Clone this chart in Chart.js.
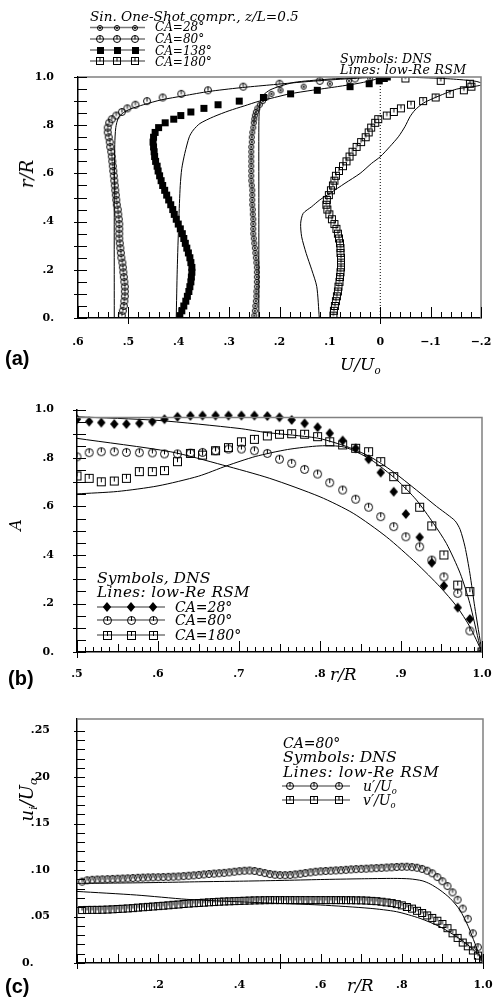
<!DOCTYPE html>
<html><head><meta charset="utf-8">
<script src="https://cdn.jsdelivr.net/npm/chart.js@4.4.1/dist/chart.umd.min.js"></script>
<style>
html,body{margin:0;padding:0;background:#fff;}
body{width:493px;height:998px;position:relative;overflow:hidden;}
canvas{position:absolute;left:0;}
.t{position:absolute;white-space:nowrap;line-height:1;font-family:'DejaVu Serif',serif;font-style:italic;color:#000;z-index:2;}
.p{position:absolute;white-space:nowrap;font-family:'Liberation Sans',Arial,sans-serif;font-weight:bold;font-size:20px;line-height:1;z-index:2;}
.rot{transform:translate(-50%,-50%) rotate(-90deg);}
.s{font-size:60%;position:relative;top:0.35em;}
</style></head><body>
<canvas id="ca" width="493" height="360" style="top:0px;width:493px;height:360px"></canvas>
<canvas id="cb" width="493" height="320" style="top:370px;width:493px;height:320px"></canvas>
<canvas id="cc" width="493" height="303" style="top:695px;width:493px;height:303px"></canvas>

<div class="t" style="left:90px;top:10px;font-size:13.6px">Sin. One-Shot compr., z/L=0.5</div>
<div class="t" style="left:155px;top:21px;font-size:12px">CA=28°</div>
<div class="t" style="left:155px;top:33px;font-size:12px">CA=80°</div>
<div class="t" style="left:155px;top:44.5px;font-size:12px">CA=138°</div>
<div class="t" style="left:155px;top:55.5px;font-size:12px">CA=180°</div>
<div class="t" style="left:340px;top:53px;font-size:12.6px">Symbols: DNS</div>
<div class="t" style="left:340px;top:64px;font-size:12.6px;letter-spacing:0.3px">Lines: low-Re RSM</div>
<div class="t rot" style="left:27px;top:174px;font-size:18px">r/R</div>
<div class="t" style="left:340px;top:356px;font-size:17px">U/U<span class="s">o</span></div>
<div class="p" style="left:5px;top:348px">(a)</div>

<div class="t rot" style="left:16px;top:525px;font-size:16px">A</div>
<div class="t" style="left:330px;top:666px;font-size:17px">r/R</div>
<div class="p" style="left:8px;top:668px">(b)</div>
<div class="t" style="left:97px;top:571px;font-size:15.6px">Symbols, DNS</div>
<div class="t" style="left:97px;top:585px;font-size:15.2px;letter-spacing:0.4px">Lines: low-Re RSM</div>
<div class="t" style="left:175px;top:600px;font-size:14px">CA=28°</div>
<div class="t" style="left:175px;top:613px;font-size:14px">CA=80°</div>
<div class="t" style="left:175px;top:628px;font-size:14px">CA=180°</div>

<div class="t rot" style="left:27px;top:800px;font-size:18px">u<span class="s">i</span>/U<span class="s">o</span></div>
<div class="t" style="left:347px;top:977px;font-size:17px">r/R</div>
<div class="p" style="left:5px;top:976px">(c)</div>
<div class="t" style="left:283px;top:736px;font-size:14px">CA=80°</div>
<div class="t" style="left:283px;top:750px;font-size:15.6px">Symbols: DNS</div>
<div class="t" style="left:283px;top:765px;font-size:15.2px;letter-spacing:0.6px">Lines: low-Re RSM</div>
<div class="t" style="left:363px;top:779px;font-size:14px">u′/U<span class="s">o</span></div>
<div class="t" style="left:363px;top:793px;font-size:14px">v′/U<span class="s">o</span></div>

<script>
// ================= Panel (a): U/Uo vs r/R =================
const rA = [0.01,0.03,0.05,0.07,0.09,0.11,0.13,0.15,0.17,0.19,0.21,0.23,0.25,0.27,0.29,0.31,0.33,0.35,0.37,0.39,0.41,0.43,0.45,0.47,0.49,0.51,0.53,0.55,0.57,0.59,0.61,0.63,0.65,0.67,0.69,0.71,0.73,0.75,0.77,0.79,0.81,
  0.825,0.84,0.855,0.87,0.885,0.9,0.915,0.93,0.945,0.96,0.972,0.984,0.994,1.0];
const uA28 = [.250,.249,.248,.247,.246,.246,.245,.245,.245,.245,.245,.246,.247,.248,.249,.250,.251,.252,.252,.252,.252,.253,.253,.254,.254,.254,.254,.255,.256,.256,.256,.256,.256,.256,.256,.256,.255,.255,.254,.252,.251,
  .250,.249,.247,.244,.239,.233,.226,.216,.198,.152,.100,.062,.020,0];
const uA80 = [.513,.511,.509,.508,.507,.507,.507,.508,.509,.510,.511,.512,.514,.515,.516,.517,.518,.518,.518,.518,.519,.520,.521,.523,.524,.525,.526,.527,.528,.529,.530,.531,.532,.533,.534,.536,.537,.539,.541,.541,.538,
  .533,.524,.513,.502,.486,.463,.432,.395,.342,.272,.200,.120,.050,0];
const uA138 = [.398,.394,.390,.386,.383,.380,.378,.376,.375,.374,.374,.376,.378,.381,.384,.387,.390,.393,.397,.401,.405,.409,.412,.416,.420,.424,.428,.432,.435,.438,.441,.443,.446,.448,.449,.450,.451,.450,.447,.440,.427,
  .410,.396,.376,.350,.322,.280,.232,.178,.125,.060,.022,.002,-.008,-.014];
const uA180 = [.093,.092,.090,.088,.086,.084,.083,.081,.080,.079,.078,.078,.078,.079,.079,.080,.082,.084,.087,.091,.096,.101,.105,.107,.106,.102,.098,.094,.091,.088,.082,.074,.067,.061,.055,.047,.038,.029,.023,.018,.010,
  .004,-.013,-.027,-.041,-.061,-.085,-.110,-.138,-.166,-.181,-.178,-.120,-.050,0];
// RSM lines
const rsmA28U = [0.241,0.241,0.241,0.240,0.238,0.232,0.219,0.199,0.170,0.110,0.050,0];
const rsmA28R = [0,0.5,0.8,0.87,0.9,0.925,0.946,0.962,0.978,0.99,0.997,1.0];
const rsmA80U = [0.528,0.528,0.527,0.525,0.520,0.510,0.495,0.470,0.435,0.390,0.340,0.280,0.219,0.150,0.070,0];
const rsmA80R = [0,0.5,0.72,0.79,0.83,0.852,0.868,0.885,0.905,0.922,0.94,0.955,0.967,0.98,0.992,1.0];
const rsmA138U = [0.405,0.403,0.400,0.397,0.394,0.388,0.379,0.371,0.358,0.331,0.300,0.270,0.240,0.210,0.180,0.135,0.085,0.040,0.010,0];
const rsmA138R = [0,0.2,0.4,0.55,0.62,0.683,0.752,0.78,0.807,0.835,0.86,0.88,0.9,0.915,0.93,0.945,0.96,0.975,0.99,1.0];
const rsmA180U = [0.121,0.126,0.136,0.147,0.156,0.158,0.153,0.136,0.120,0.100,0.070,0.040,0.017,0.000,-0.019,-0.036,-0.049,-0.059,-0.069,-0.085,-0.105,-0.129,-0.152,-0.190,-0.205,-0.190,-0.140,-0.070,0];
const rsmA180R = [0,0.13,0.2,0.268,0.337,0.393,0.434,0.462,0.49,0.517,0.559,0.6,0.642,0.669,0.711,0.752,0.794,0.835,0.863,0.891,0.911,0.932,0.95,0.962,0.97,0.982,0.992,0.998,1.0];
const zeroLineU = [0,0];
const zeroLineR = [0,1];
const xTicksA = [0.6,0.5,0.4,0.3,0.2,0.1,0,-0.1,-0.2];
const xLabelsA = ['.6','.5','.4','.3','.2','.1','0','\u2212.1','\u2212.2'];
const yTicksA = [0,0.2,0.4,0.6,0.8,1.0];
const yLabelsA = ['0.','.2','.4','.6','.8','1.0'];

// ================= Panel (b): A vs r/R =================
const rB = [0.5,0.515,0.53,0.546,0.561,0.577,0.593,0.608,0.624,0.64,0.655,0.671,0.687,0.703,0.719,0.735,0.75,0.765,0.781,0.797,0.812,0.828,0.844,0.86,0.875,0.891,0.906,0.923,0.938,0.953,0.97,0.985,1.0];
const aB28 = [.960,.950,.946,.940,.940,.943,.950,.960,.970,.974,.975,.975,.975,.975,.975,.973,.968,.957,.943,.927,.902,.872,.840,.795,.740,.661,.569,.473,.368,.273,.183,.136,0];
const aB80 = [.805,.822,.826,.826,.823,.822,.821,.817,.817,.820,.823,.830,.837,.837,.830,.819,.795,.778,.753,.734,.698,.668,.630,.597,.558,.517,.475,.434,.379,.310,.242,.087,0];
const aB180 = [.726,.716,.702,.705,.716,.744,.744,.748,.785,.819,.812,.830,.843,.867,.877,.891,.898,.900,.898,.888,.867,.854,.840,.826,.785,.723,.671,.597,.520,.400,.276,.249,0];
const rsmB28R = [0.5,0.6,0.7,0.734,0.77,0.8,0.833,0.862,0.89,0.919,0.944,0.958,0.967,0.973,0.979,0.985,0.991,1.0];
const rsmB28A = [.970,.955,.922,.905,.893,.880,.847,.805,.744,.668,.600,.565,.540,.505,.434,.325,.187,0];
const rsmB80R = [0.5,0.615,0.68,0.738,0.8,0.841,0.882,0.919,0.948,0.969,0.985,1.0];
const rsmB80A = [.881,.826,.771,.716,.640,.572,.475,.366,.269,.187,.104,0];
const rsmB180R = [0.5,0.55,0.6,0.65,0.685,0.72,0.76,0.8,0.83,0.862,0.895,0.919,0.94,0.956,0.973,0.985,0.997,1.0];
const rsmB180A = [.652,.662,.685,.725,.768,.806,.835,.850,.845,.795,.709,.627,.531,.448,.325,.200,.030,0];
const xTicksB = [0.5,0.6,0.7,0.8,0.9,1.0];
const xLabelsB = ['.5','.6','.7','.8','.9','1.0'];
const yTicksB = [0,0.2,0.4,0.6,0.8,1.0];
const yLabelsB = ['0.','.2','.4','.6','.8','1.0'];

// ================= Panel (c): ui/Uo vs r/R, CA=80 =================
const rC = [0.0125,0.025,0.0375,0.05,0.0625,0.075,0.0875,0.1,0.1125,0.125,
  0.1375,0.15,0.1625,0.175,0.1875,0.2,0.2125,0.225,0.2375,0.25,
  0.2625,0.275,0.2875,0.3,0.3125,0.325,0.3375,0.35,0.3625,0.375,
  0.3875,0.4,0.4125,0.425,0.4375,0.45,0.4625,0.475,0.4875,0.5,
  0.5125,0.525,0.5375,0.55,0.5625,0.575,0.5875,0.6,0.6125,0.625,
  0.6375,0.65,0.6625,0.675,0.6875,0.7,0.7125,0.725,0.7375,0.75,
  0.7625,0.775,0.7875,0.8,0.8125,0.825,0.8375,0.85,0.8625,0.875,
  0.8875,0.9,0.9125,0.925,0.9375,0.95,0.9625,0.975,0.9875,1.0];
const uPrime = [.0875,.0890,.0895,.0898,.0900,.0902,.0905,.0907,.0909,.0911,
  .0914,.0917,.0919,.0921,.0922,.0923,.0925,.0927,.0929,.0931,
  .0935,.0939,.0943,.0948,.0953,.0958,.0962,.0966,.0970,.0975,
  .0982,.0988,.0993,.0995,.0990,.0980,.0968,.0957,.0950,.0946,
  .0945,.0948,.0953,.0960,.0968,.0975,.0982,.0987,.0990,.0993,
  .0996,.0999,.1003,.1007,.1010,.1013,.1015,.1018,.1021,.1024,
  .1027,.1030,.1033,.1035,.1036,.1032,.1025,.1012,.0993,.0965,
  .0925,.0880,.0828,.0760,.0680,.0585,.0475,.0320,.0170,.0050];
const vPrime = [.0570,.0571,.0572,.0572,.0573,.0575,.0578,.0581,.0584,.0587,
  .0591,.0596,.0600,.0604,.0608,.0612,.0616,.0621,.0626,.0630,
  .0635,.0639,.0643,.0646,.0649,.0653,.0656,.0659,.0662,.0664,
  .0666,.0668,.0670,.0672,.0674,.0675,.0676,.0677,.0677,.0677,
  .0677,.0677,.0677,.0677,.0677,.0677,.0677,.0677,.0677,.0677,
  .0677,.0677,.0676,.0676,.0675,.0674,.0672,.0669,.0665,.0659,
  .0652,.0645,.0634,.0620,.0603,.0585,.0562,.0538,.0512,.0485,
  .0455,.0420,.0375,.0320,.0270,.0220,.0180,.0135,.0080,.0030];
const rsmUR = [0,0.1,0.2,0.3,0.4,0.5,0.6,0.7,0.78,0.82,0.85,0.87,0.894,0.919,0.943,0.964,0.98,0.993,1.0];
const rsmUV = [.0857,.0860,.0866,.0874,.0880,.0888,.0898,.0906,.0910,.0905,.0885,.0850,.0785,.0696,.0570,.0390,.0212,.0068,0];
const rsmVR = [0,0.147,0.27,0.352,0.475,0.599,0.722,0.787,0.845,0.894,0.935,0.968,0.993,1.0];
const rsmVV = [.0770,.0731,.0685,.0667,.0645,.0624,.0588,.0552,.0480,.0390,.0283,.0175,.0068,0];
const xTicksC = [0.2,0.4,0.6,0.8,1.0];
const xLabelsC = ['.2','.4','.6','.8','1.0'];
const yTicksC = [0,0.05,0.10,0.15,0.20,0.25];
const yLabelsC = ['0.\u2002\u2002\u2002','.05','.10','.15','.20','.25'];

// ================= helpers =================
function pts(xs, ys){ return xs.map((x,i)=>({x:x, y:ys[i]})); }
function mk(size, fn){ const c=document.createElement('canvas'); c.width=size; c.height=size; const g=c.getContext('2d'); g.strokeStyle='#000'; g.fillStyle='#000'; g.lineWidth=1; fn(g,size/2); return c; }
const circT = d => mk(d+3,(g,c)=>{ g.beginPath(); g.arc(c,c,d/2,0,Math.PI*2); g.stroke(); g.beginPath(); g.moveTo(c,c-d/2); g.lineTo(c,c+0.5); g.stroke(); });
const sqT = d => mk(d+3,(g,c)=>{ g.strokeRect(c-d/2,c-d/2,d,d); g.beginPath(); g.moveTo(c,c-d/2); g.lineTo(c,c+0.5); g.stroke(); });
const sqF = d => mk(d+2,(g,c)=>{ g.fillRect(c-d/2,c-d/2,d,d); });
const dia = d => mk(d+2,(g,c)=>{ g.beginPath(); g.moveTo(c,c-d/2); g.lineTo(c+d*0.42,c); g.lineTo(c,c+d/2); g.lineTo(c-d*0.42,c); g.closePath(); g.fill(); });
const circD = d => mk(d+3,(g,c)=>{ g.beginPath(); g.arc(c,c,d/2,0,Math.PI*2); g.stroke(); g.beginPath(); g.moveTo(c,c-1.5); g.lineTo(c+1.2,c); g.lineTo(c,c+1.5); g.lineTo(c-1.2,c); g.closePath(); g.fill(); });

function dns(data, img){ return {data:data, showLine:false, pointStyle:img, pointRadius:3, pointHoverRadius:3, borderColor:'#000', backgroundColor:'#000'}; }
function rsm(data, extra){ return Object.assign({data:data, showLine:true, pointRadius:0, pointHoverRadius:0, borderColor:'#000', borderWidth:1, tension:0.25, fill:false}, extra||{}); }

const tickFont = {family:'DejaVu Serif', weight:'bold', size:11};
function isMult(v,s){ const q=v/s; return Math.abs(q-Math.round(q))<1e-6; }

const decor = {
  id:'decor',
  afterDatasetsDraw(chart, args, o){
    const ctx=chart.ctx, a=chart.chartArea, xs=chart.scales.x, ys=chart.scales.y;
    ctx.save();
    ctx.strokeStyle='#808080'; ctx.lineWidth=1.5;
    const top = a.top + (o.frameTopOffset||0);
    ctx.beginPath(); ctx.moveTo(a.left, top); ctx.lineTo(a.right, top); ctx.lineTo(a.right, a.bottom); ctx.stroke();
    ctx.strokeStyle='#000'; ctx.lineWidth=1;
    const tx=o.tx, ty=o.ty;
    let n=Math.round((tx.max-tx.min)/tx.minor);
    for(let i=0;i<=n;i++){
      const v=tx.min+i*tx.minor; let len=tx.len;
      tx.levels.forEach(L=>{ if(isMult(v,L[0])) len=L[1]; });
      const px=Math.round(xs.getPixelForValue(v))+0.5;
      const out=isMult(v,tx.outStep)?tx.outLen:0;
      ctx.beginPath(); ctx.moveTo(px,a.bottom+out); ctx.lineTo(px,a.bottom-len); ctx.stroke();
    }
    n=Math.round((ty.max-ty.min)/ty.minor);
    for(let i=0;i<=n;i++){
      const v=ty.min+i*ty.minor; let len=ty.len;
      const py=Math.round(ys.getPixelForValue(v))+0.5;
      const out=isMult(v,ty.outStep)?ty.outLen:0;
      ctx.beginPath(); ctx.moveTo(a.left-out,py); ctx.lineTo(a.left+len,py); ctx.stroke();
    }
    (o.legend||[]).forEach(L=>{
      ctx.strokeStyle='#777'; ctx.lineWidth=1.5;
      ctx.beginPath(); ctx.moveTo(L.x1,L.y); ctx.lineTo(L.x2,L.y); ctx.stroke();
      L.mx.forEach(m=>{ ctx.drawImage(L.img, Math.round(m-L.img.width/2), Math.round(L.y-L.img.height/2)); });
    });
    ctx.restore();
  }
};

const hiddenGrid = (len)=>({display:true, drawOnChartArea:false, drawTicks:true, tickLength:len, color:'rgba(0,0,0,0)'});

function makeChart(id, datasets, cfg){
  return new Chart(document.getElementById(id), {
    type:'scatter',
    data:{datasets:datasets},
    plugins:[decor],
    options:{
      animation:false, responsive:false, maintainAspectRatio:false, events:[],
      layout:{padding:cfg.padding},
      plugins:{legend:{display:false}, tooltip:{enabled:false}, decor:cfg.decor},
      scales:{
        x:{type:'linear', min:cfg.x.min, max:cfg.x.max, reverse:!!cfg.x.reverse,
           grid:hiddenGrid(cfg.x.pad), border:{display:true,color:'#000',width:1.5},
           afterBuildTicks:s=>{ s.ticks=cfg.x.ticks.map(v=>({value:v})); },
           afterFit:s=>{ s.height=cfg.x.size; },
           ticks:{autoSkip:false, maxRotation:0, padding:0, color:'#000', font:tickFont,
                  callback:(v)=>{ const i=cfg.x.ticks.findIndex(t=>Math.abs(t-v)<1e-9); return i<0?'':cfg.x.labels[i]; }}},
        y:{type:'linear', min:cfg.y.min, max:cfg.y.max,
           grid:hiddenGrid(cfg.y.pad), border:{display:true,color:'#000',width:1.5},
           afterBuildTicks:s=>{ s.ticks=cfg.y.ticks.map(v=>({value:v})); },
           afterFit:s=>{ s.width=cfg.y.size; },
           ticks:{autoSkip:false, padding:0, color:'#000', font:tickFont,
                  callback:(v)=>{ const i=cfg.y.ticks.findIndex(t=>Math.abs(t-v)<1e-9); return i<0?'':cfg.y.labels[i]; }}}
      }
    }
  });
}

const mA28=circD(5), mA80=circT(7), mA138=sqF(7), mA180=sqT(7);
const mB28=dia(10), mB80=circT(8), mB180=sqT(8);
const mCu=circT(7), mCv=sqT(7);

makeChart('ca', [
  rsm(pts(zeroLineU, zeroLineR), {borderDash:[1,2], tension:0}),
  rsm(pts(rsmA28U, rsmA28R)),
  rsm(pts(rsmA80U, rsmA80R)),
  rsm(pts(rsmA138U, rsmA138R)),
  rsm(pts(rsmA180U, rsmA180R)),
  dns(pts(uA28, rA), mA28),
  dns(pts(uA80, rA), mA80),
  dns(pts(uA138, rA), mA138),
  dns(pts(uA180, rA), mA180)
], {
  padding:{top:77,right:12,left:0,bottom:0},
  x:{min:-0.2,max:0.6,reverse:true,ticks:xTicksA,labels:xLabelsA,size:42,pad:18},
  y:{min:0,max:1,ticks:yTicksA,labels:yLabelsA,size:78,pad:24},
  decor:{frameTopOffset:0,
    tx:{min:-0.2,max:0.6,minor:0.02,len:6,levels:[[0.1,11]],outStep:0.5,outLen:6},
    ty:{min:0,max:1,minor:0.05,len:9,outStep:0.1,outLen:4},
    legend:[
      {x1:90,x2:145,y:27.5,mx:[100,117,135],img:mA28},
      {x1:90,x2:145,y:39,mx:[100,117,135],img:mA80},
      {x1:90,x2:145,y:50,mx:[100,117,135],img:mA138},
      {x1:90,x2:145,y:61,mx:[100,117,135],img:mA180}
    ]}
});

makeChart('cb', [
  rsm(pts(rsmB28R, rsmB28A)),
  rsm(pts(rsmB80R, rsmB80A)),
  rsm(pts(rsmB180R, rsmB180A)),
  dns(pts(rB, aB28), mB28),
  dns(pts(rB, aB80), mB80),
  dns(pts(rB, aB180), mB180)
], {
  padding:{top:39.5,right:11,left:0,bottom:0},
  x:{min:0.5,max:1.0,ticks:xTicksB,labels:xLabelsB,size:38,pad:16},
  y:{min:0,max:1,ticks:yTicksB,labels:yLabelsB,size:77,pad:23},
  decor:{frameTopOffset:8,
    tx:{min:0.5,max:1.0,minor:0.01,len:5,levels:[[0.05,8],[0.1,11]],outStep:0.5,outLen:6},
    ty:{min:0,max:1,minor:0.05,len:9,outStep:0.1,outLen:4},
    legend:[
      {x1:97,x2:165,y:237,mx:[107,131,153],img:mB28},
      {x1:97,x2:165,y:250,mx:[107,131,153],img:mB80},
      {x1:97,x2:165,y:265,mx:[107,131,153],img:mB180}
    ]}
});

makeChart('cc', [
  rsm(pts(rsmUR, rsmUV)),
  rsm(pts(rsmVR, rsmVV)),
  dns(pts(rC, uPrime), mCu),
  dns(pts(rC, vPrime), mCv)
], {
  padding:{top:24,right:10,left:0,bottom:0},
  x:{min:0,max:1.0,ticks:xTicksC,labels:xLabelsC,size:35,pad:16},
  y:{min:0,max:0.2625,ticks:yTicksC,labels:yLabelsC,size:77,pad:27},
  decor:{frameTopOffset:0,
    tx:{min:0,max:1.0,minor:0.02,len:5,levels:[[0.1,9]],outStep:0.5,outLen:6},
    ty:{min:0,max:0.25,minor:0.01,len:8,outStep:0.05,outLen:3},
    legend:[
      {x1:282,x2:350,y:91,mx:[290,314,339],img:mCu},
      {x1:282,x2:350,y:105,mx:[290,314,339],img:mCv}
    ]}
});
</script>
</body></html>
